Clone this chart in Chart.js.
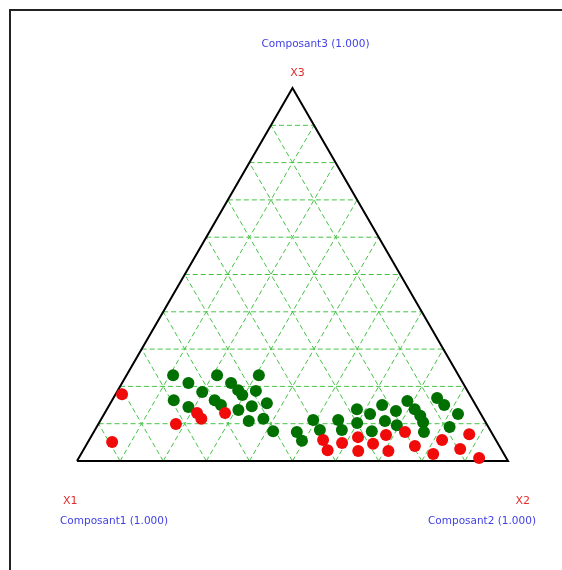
<!DOCTYPE html>
<html>
<head>
<meta charset="utf-8">
<script src="https://cdn.jsdelivr.net/npm/chart.js@4"></script>
<style>
  html, body { margin: 0; padding: 0; background: #fff; }
  #wrap { position: relative; width: 562px; height: 570px; overflow: hidden; }
  #frame { position: absolute; left: 9px; top: 9px; width: 600px; height: 600px;
           border-top: 2px solid #222; border-left: 2px solid #222; }
  #ternary { position: absolute; left: 0; top: 0; }
</style>
</head>
<body>
<div id="wrap">
  <div id="frame"></div>
  <canvas id="ternary" width="562" height="570"></canvas>
</div>
<script>
// compositions (X1 = 1 - X2 - X3)
const redX2 = [0.015, 0.056, 0.180, 0.214, 0.232, 0.279, 0.543, 0.567, 0.591, 0.620, 0.639,
               0.664, 0.682, 0.709, 0.722, 0.764, 0.817, 0.819, 0.873, 0.874, 0.929];
const redX3 = [0.179, 0.051, 0.099, 0.129, 0.113, 0.129, 0.056, 0.029, 0.048, 0.064, 0.027,
               0.046, 0.070, 0.027, 0.078, 0.040, 0.019, 0.056, 0.032, 0.072, 0.008];

const greenX2 = [0.108, 0.154, 0.210, 0.307, 0.253, 0.279, 0.295, 0.198, 0.321, 0.143, 0.186,
                 0.238, 0.259, 0.306, 0.332, 0.363, 0.345, 0.376, 0.415, 0.471, 0.495, 0.493,
                 0.522, 0.551, 0.573, 0.580, 0.599, 0.617, 0.644, 0.633, 0.661, 0.673, 0.694,
                 0.686, 0.714, 0.736, 0.751, 0.766, 0.751, 0.777, 0.821, 0.819];
const greenX3 = [0.230, 0.209, 0.230, 0.230, 0.209, 0.190, 0.177, 0.185, 0.188, 0.163, 0.145,
                 0.163, 0.150, 0.137, 0.147, 0.155, 0.107, 0.113, 0.080, 0.078, 0.054, 0.110,
                 0.083, 0.110, 0.083, 0.139, 0.102, 0.126, 0.080, 0.150, 0.107, 0.134, 0.096,
                 0.161, 0.139, 0.121, 0.104, 0.078, 0.169, 0.150, 0.126, 0.091];

const vertexLabels = ["X1", "X2", "X3"];
const componentLabels = ["Composant1 (1.000)", "Composant2 (1.000)", "Composant3 (1.000)"];
const gridSteps = 10;

const H = Math.sqrt(3) / 2;
function toXY(x2, x3) {
    return { x: x2 + x3 / 2, y: x3 * H };
}

function makePoints(x2s, x3s) {
    return x2s.map((v, i) => toXY(v, x3s[i]));
}

const gridColor = "rgb(70, 195, 70)";
const gridSets = [];
for (let k = 1; k < gridSteps; k++) {
    const f = k / gridSteps;
    // constant X3
    gridSets.push([toXY(0, f), toXY(1 - f, f)]);
    // constant X2
    gridSets.push([toXY(f, 0), toXY(f, 1 - f)]);
    // constant X1
    gridSets.push([toXY(1 - f, 0), toXY(0, 1 - f)]);
}

const datasets = [
    {
        label: "rouge",
        data: makePoints(redX2, redX3),
        backgroundColor: "rgb(240, 10, 10)",
        borderWidth: 0,
        pointRadius: 6,
        clip: false,
        order: 0
    },
    {
        label: "vert",
        data: makePoints(greenX2, greenX3),
        backgroundColor: "rgb(0, 112, 0)",
        borderWidth: 0,
        pointRadius: 6,
        clip: false,
        order: 1
    },
    {
        label: "triangle",
        data: [toXY(0, 0), toXY(1, 0), toXY(0, 1), toXY(0, 0)],
        showLine: true,
        borderColor: "#000",
        borderWidth: 2,
        pointRadius: 0,
        clip: false,
        order: 2
    }
];
gridSets.forEach((pts, i) => {
    datasets.push({
        label: "grille" + i,
        data: pts,
        showLine: true,
        borderColor: gridColor,
        borderWidth: 1,
        borderDash: [5, 3],
        pointRadius: 0,
        clip: false,
        order: 3
    });
});

const labelPlugin = {
    id: "ternaryLabels",
    afterDraw(chart) {
        const ctx = chart.ctx;
        const xs = chart.scales.x, ys = chart.scales.y;
        const left = xs.getPixelForValue(0), right = xs.getPixelForValue(1);
        const base = ys.getPixelForValue(0), top = ys.getPixelForValue(H);
        const apex = xs.getPixelForValue(0.5);
        ctx.save();
        ctx.font = "11px 'DejaVu Sans', sans-serif";
        ctx.textBaseline = "middle";
        const red = "rgb(225, 45, 45)", blue = "rgb(65, 65, 230)";

        ctx.fillStyle = red;
        ctx.textAlign = "left";
        ctx.fillText(vertexLabels[0], left - 14, base + 40);
        ctx.textAlign = "right";
        ctx.fillText(vertexLabels[1], right + 22, base + 40);
        ctx.textAlign = "center";
        ctx.fillText(vertexLabels[2], apex + 5, top - 15);

        ctx.fillStyle = blue;
        ctx.font = "10.5px 'DejaVu Sans', sans-serif";
        ctx.textAlign = "left";
        ctx.fillText(componentLabels[0], left - 17, base + 60);
        ctx.textAlign = "right";
        ctx.fillText(componentLabels[1], right + 28, base + 60);
        ctx.textAlign = "center";
        ctx.fillText(componentLabels[2], apex + 23, top - 44);
        ctx.restore();
    }
};

new Chart(document.getElementById("ternary").getContext("2d"), {
    type: "scatter",
    data: { datasets: datasets },
    options: {
        responsive: false,
        animation: false,
        devicePixelRatio: 1,
        layout: { padding: { left: 77, right: 54, top: 88, bottom: 109 } },
        plugins: {
            legend: { display: false },
            tooltip: { enabled: false }
        },
        scales: {
            x: { type: "linear", min: 0, max: 1, display: false },
            y: { type: "linear", min: 0, max: H, display: false }
        }
    },
    plugins: [labelPlugin]
});
</script>
</body>
</html>
